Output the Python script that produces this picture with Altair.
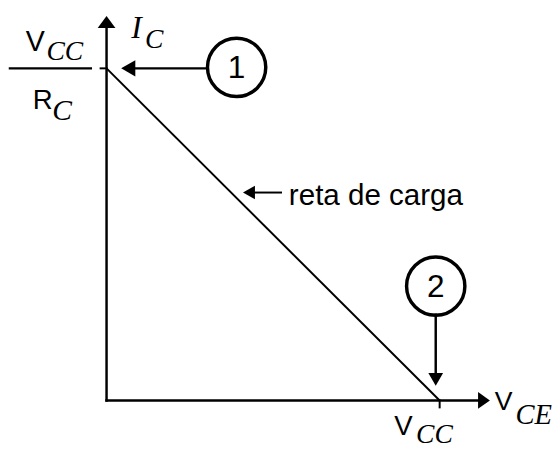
import altair as alt
import pandas as pd

# Load line (normalised units: V_CE in units of V_CC, I_C in units of V_CC/R_C)
line_v = [0.0, 1.0]
line_i = [1.0, 0.0]

# axis extents (before arrowheads)
x_axis_end = 1.1154
y_axis_end = 1.1217

# segments: x, y, x2, y2, stroke width
seg_x  = [0.0, 0.0, 1.0, -0.0178, -0.2899, 0.0858, 0.9882, 0.4379]
seg_y  = [0.0, 0.0, 0.0, 1.0, 1.0, 1.0, 0.2582, 0.6261]
seg_x2 = [x_axis_end, 0.0, 1.0, 0.0, -0.0473, 0.2988, 0.9882, 0.5237]
seg_y2 = [0.0, y_axis_end, -0.0208, 1.0, 1.0, 1.0, 0.0801, 0.6261]
seg_w  = [2.5, 2.5, 2.0, 2.0, 2.5, 2.5, 2.5, 2.0]

# arrowheads
right_x, right_y = [1.1331], [0.0]
up_x, up_y = [0.0], [1.1395]
left_x, left_y = [0.0651, 0.4275], [1.0, 0.6261]
left_size = [420, 300]
down_x, down_y = [0.9882], [0.0638]

# numbered circles
circ_x = [0.3905, 0.9882]
circ_y = [1.003, 0.3442]
circ_lbl = ["1", "2"]

# sans labels
sans_txt = ["V", "R", "V", "V", "reta de carga"]
sans_x = [-0.2426, -0.2219, 1.1657, 0.8639, 0.5473]
sans_y = [1.0534, 0.8783, -0.0297, -0.1039, 0.5875]
sans_fs = [29, 28, 27, 28, 30]

# serif italic labels
ser_txt = ["CC", "C", "I", "C", "CE", "CC"]
ser_x = [-0.1805, -0.1627, 0.0740, 0.1154, 1.2278, 0.9290]
ser_y = [1.0237, 0.8457, 1.0920, 1.0623, -0.0712, -0.128]
ser_fs = [28, 30, 32, 28, 29, 28]

xs = alt.Scale(domain=[-0.29586, 1.33728], nice=False, zero=False)
ys = alt.Scale(domain=[-0.13947, 1.17211], nice=False, zero=False)

def X(f):
    return alt.X(f, type="quantitative", scale=xs, axis=None)

def Y(f):
    return alt.Y(f, type="quantitative", scale=ys, axis=None)

load = alt.Chart(pd.DataFrame({"v": line_v, "i": line_i})).mark_line(
    color="black", strokeWidth=2
).encode(x=X("v"), y=Y("i"))

segs = alt.Chart(pd.DataFrame({"x": seg_x, "y": seg_y, "x2": seg_x2, "y2": seg_y2, "w": seg_w})).mark_rule(
    color="black", strokeCap="square"
).encode(x=X("x"), y=Y("y"), x2="x2", y2="y2", strokeWidth=alt.StrokeWidth("w:Q", scale=None))

def head(xv, yv, path, size):
    df = pd.DataFrame({"x": xv, "y": yv})
    return alt.Chart(df).mark_point(
        shape=path, filled=True, color="black", opacity=1, strokeWidth=0, size=size
    ).encode(x=X("x"), y=Y("y"))

h_right = head(right_x, right_y, "M -0.6 -0.85 L 0.6 0 L -0.6 0.85 Z", 400)
h_up = head(up_x, up_y, "M -0.9 0.6 L 0 -0.6 L 0.9 0.6 Z", 400)
h_down = head(down_x, down_y, "M -0.75 -0.65 L 0 0.65 L 0.75 -0.65 Z", 400)
h_left = alt.Chart(pd.DataFrame({"x": left_x, "y": left_y, "s": left_size})).mark_point(
    shape="M 0.7 -0.8 L -0.7 0 L 0.7 0.8 Z", filled=True, color="black", opacity=1, strokeWidth=0
).encode(x=X("x"), y=Y("y"), size=alt.Size("s:Q", scale=None))

circles = alt.Chart(pd.DataFrame({"x": circ_x, "y": circ_y, "t": circ_lbl})).mark_point(
    shape="circle", filled=False, color="black", opacity=1, strokeWidth=3.5, size=3500
).encode(x=X("x"), y=Y("y"))

circ_text = alt.Chart(pd.DataFrame({"x": circ_x, "y": circ_y, "t": circ_lbl})).mark_text(
    font="Liberation Sans", fontSize=32, align="center", baseline="middle", color="black", dy=1
).encode(x=X("x"), y=Y("y"), text="t:N")

sans = alt.Chart(pd.DataFrame({"x": sans_x, "y": sans_y, "t": sans_txt, "fs": sans_fs})).mark_text(
    font="Liberation Sans", align="left", baseline="alphabetic", color="black"
).encode(x=X("x"), y=Y("y"), text="t:N", size=alt.Size("fs:Q", scale=None))

serif = alt.Chart(pd.DataFrame({"x": ser_x, "y": ser_y, "t": ser_txt, "fs": ser_fs})).mark_text(
    font="Liberation Serif", fontStyle="italic", align="left", baseline="alphabetic", color="black"
).encode(x=X("x"), y=Y("y"), text="t:N", size=alt.Size("fs:Q", scale=None))

chart = alt.layer(
    segs, load, h_right, h_up, h_down, h_left, circles, circ_text, sans, serif
).properties(
    width=552, height=442, padding=0, autosize=alt.AutoSizeParams(type="none"),
    background="white"
).configure_view(strokeWidth=0)

chart.save("out.html", embed_options={"renderer": "svg", "actions": False})
